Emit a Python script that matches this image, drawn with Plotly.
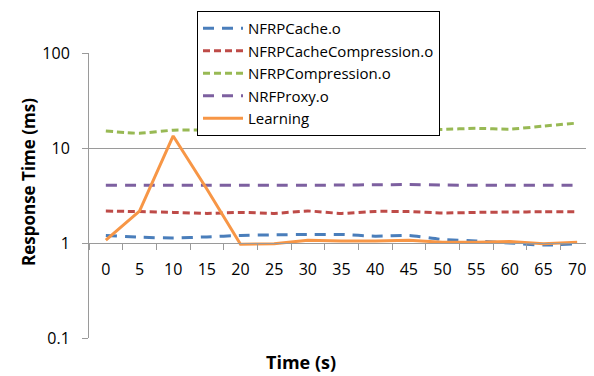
import plotly.graph_objects as go

time_s = [0, 5, 10, 15, 20, 25, 30, 35, 40, 45, 50, 55, 60, 65, 70]
nfrp_cache = [1.20, 1.15, 1.13, 1.16, 1.20, 1.22, 1.23, 1.23, 1.18, 1.20, 1.09, 1.05, 1.00, 0.95, 0.98]
nfrp_cache_comp = [2.17, 2.14, 2.10, 2.05, 2.10, 2.05, 2.17, 2.05, 2.15, 2.14, 2.07, 2.10, 2.12, 2.13, 2.13]
nfrp_comp = [15.1, 14.3, 15.4, 15.5, 15.8, 15.5, 15.5, 16.1, 15.1, 16.0, 15.7, 16.1, 15.8, 17.0, 18.3]
nrf_proxy = [4.05, 4.05, 4.05, 4.05, 4.05, 4.05, 4.05, 4.08, 4.10, 4.12, 4.08, 4.05, 4.05, 4.05, 4.05]
learning = [1.07, 2.17, 13.4, 3.7, 0.97, 0.98, 1.07, 1.05, 1.05, 1.07, 1.02, 1.02, 1.04, 0.98, 1.02]

x_labels = [str(t) for t in time_s]
y_ticks = [0.1, 1, 10, 100]
y_tick_text = ["0.1", "1", "10", "100"]

series = [
    ("NFRPCache.o", nfrp_cache, "#4a7ebb", "11px,8px"),
    ("NFRPCacheCompression.o", nfrp_cache_comp, "#be4b48", "7px,4px"),
    ("NFRPCompression.o", nfrp_comp, "#98b954", "7px,4px"),
    ("NRFProxy.o", nrf_proxy, "#7d60a0", "11px,8px"),
]

fig = go.Figure()
for name, vals, color, dash in series:
    fig.add_trace(go.Scatter(
        x=x_labels, y=vals, name=name, mode="lines",
        line=dict(color=color, width=3, dash=dash, shape="spline", smoothing=0.6),
    ))
fig.add_trace(go.Scatter(
    x=x_labels, y=learning, name="Learning", mode="lines",
    line=dict(color="#f79646", width=3),
))

font_family = "Open Sans, Noto Sans, sans-serif"

# page body has an 8px default margin; the figure is sized/offset to compensate
OFF = 8
W, H = 594 - OFF, 376 - OFF
PL, PR, PT, PB = 89 - OFF, 594 - OFF, 53 - OFF, 338 - OFF  # plot area in figure px
pw, ph = PR - PL, PB - PT


def px(x):
    return (x - OFF - PL) / pw


def py(y):
    return (PB - (y - OFF)) / ph


fig.update_layout(
    width=W, height=H,
    margin=dict(l=PL, r=W - PR, t=PT, b=H - PB, autoexpand=False),
    paper_bgcolor="white", plot_bgcolor="white",
    font=dict(family=font_family, size=16, color="black"),
    showlegend=True,
    legend=dict(
        x=px(197), y=py(11), xanchor="left", yanchor="top",
        bgcolor="white", bordercolor="black", borderwidth=1,
        font=dict(size=15, family=font_family),
        itemwidth=40, tracegroupgap=0,
    ),
    xaxis=dict(
        type="category", range=[-0.5, 14.5],
        anchor="free", position=1/3,
        showline=True, linecolor="#9a9a9a", linewidth=1,
        ticks="outside", tickson="boundaries", ticklen=6, tickcolor="#9a9a9a",
        showgrid=False, zeroline=False, ticklabelstandoff=12,
        tickfont=dict(size=16),
    ),
    yaxis=dict(
        type="log", range=[-1, 2],
        tickvals=y_ticks, ticktext=y_tick_text,
        showline=True, linecolor="#9a9a9a", linewidth=1,
        ticks="outside", ticklen=6, tickcolor="#9a9a9a",
        showgrid=True, gridcolor="#9a9a9a", gridwidth=1,
        zeroline=False, ticklabelstandoff=9,
        tickfont=dict(size=16),
    ),
    annotations=[
        dict(text="<b>Time (s)</b>", xref="paper", yref="paper",
             x=px(301), y=py(362), xanchor="center", yanchor="middle",
             showarrow=False, font=dict(size=18, family=font_family)),
        dict(text="<b>Response Time (ms)</b>", xref="paper", yref="paper",
             x=px(28), y=py(182), xanchor="center", yanchor="middle",
             textangle=-90, showarrow=False, font=dict(size=17, family=font_family)),
    ],
)

fig.write_html("out.html")
